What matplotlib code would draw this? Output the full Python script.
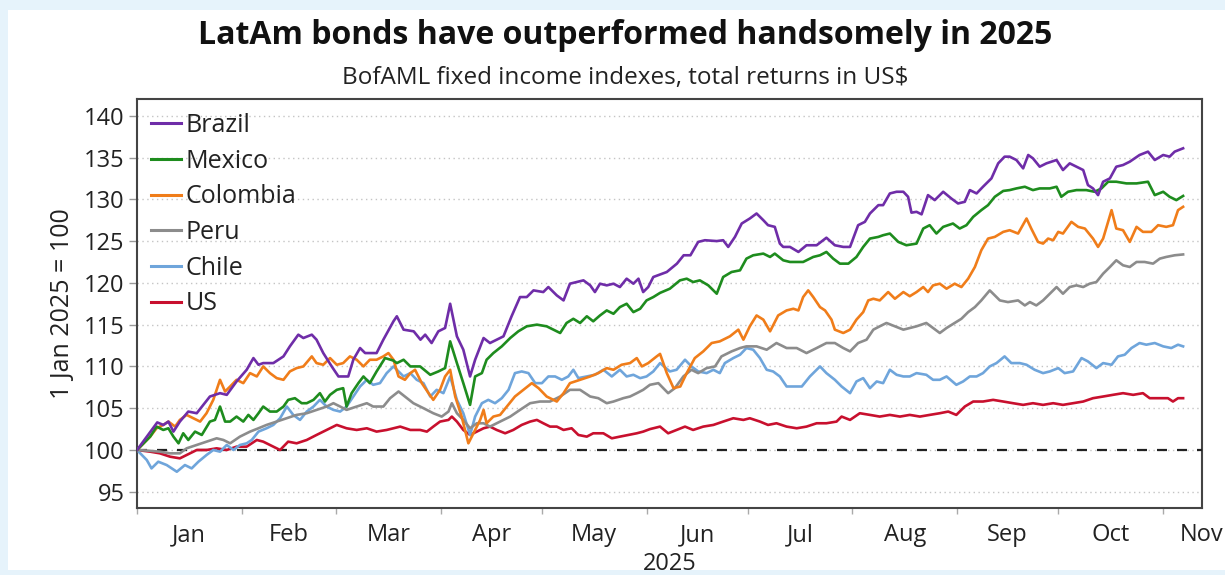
import numpy as np
import matplotlib
matplotlib.use("Agg")
import matplotlib.pyplot as plt
from matplotlib.patches import Rectangle

plt.rcParams['font.family'] = ['Open Sans', 'DejaVu Sans']

# ---- data (days since 1 Jan 2025, index level 1 Jan 2025 = 100) ----
brazil_days = [0, 6, 7.8, 9.3, 10.8, 12.7, 15.2, 17.7, 21.6, 24.6, 26.6, 29.5, 32.5, 34.5, 36, 37.4, 40.4, 43.4, 45.3,
               47.8, 49.3, 51.8, 53.2, 55.2, 57.7, 59.7, 62.6, 64.1, 66.1, 67.6, 71, 73, 76, 77, 79, 82, 84, 85.4, 87.3,
               89.3, 91.3, 92.8, 94.8, 96.7, 98.7, 100.2, 102.7, 104.6, 106.6, 108.6, 111, 113.5, 115.5, 117.5, 120.4,
               121.9, 124.4, 126.4, 128.3, 130.3, 132.3, 134.3, 135.7, 137.2, 139.2, 141.2, 143.1, 145.1, 147.1, 148.6,
               150, 151.5, 153, 155, 157, 160, 162, 164, 166.3, 168.3, 171.8, 173.7, 175.2, 177.2, 179.2, 181.6, 183.6,
               185.6, 187, 189, 190.5, 191.5, 193.5, 196, 198.4, 201.4, 204.3, 206.8, 209.3, 211.3, 213.7, 215.7, 217.2,
               219.7, 221.1, 223.1, 225.1, 227.1, 228.5, 229.5, 231, 232.5, 234.4, 236.4, 238.9, 241.3, 243.3, 245.3,
               246.8, 248.8, 250.7, 253.2, 255.2, 257.1, 258.6, 260.6, 262.6, 264.1, 265.5, 267.5, 269.5, 272.5, 274.4,
               276.4, 278.4, 280.4, 281.8, 283.3, 284.8, 286.3, 288.3, 290.2, 292.2, 294.2, 297.1, 299.6, 301.6, 304.1,
               306, 307.5, 310]
brazil_vals = [100, 103.3, 103, 103.4, 102.2, 103.4, 104.6, 104.4, 106.4, 106.8, 106.6, 108.2, 109.6, 111, 110.2, 110.4,
               110.4, 111.2, 112.4, 113.8, 113.4, 113.8, 113.2, 111.6, 110, 108.8, 108.8, 110.8, 112.2, 111.6, 111.6,
               113.2, 115.4, 116, 114.4, 114.2, 113.2, 113.8, 112.8, 114.2, 114.6, 117.5, 113.6, 112, 108.8, 110.8,
               113.4, 112.8, 113.2, 113.6, 116, 118.3, 118.3, 119.1, 118.9, 119.5, 118.5, 117.9, 119.9, 120.1, 120.3,
               119.7, 118.9, 119.9, 119.7, 119.9, 119.5, 120.5, 119.9, 120.5, 118.9, 119.5, 120.7, 121, 121.3, 122.3,
               123.3, 123.3, 124.9, 125.1, 125, 125.1, 124.3, 125.5, 127.1, 127.7, 128.3, 127.5, 126.9, 126.7, 124.7,
               124.3, 124.3, 123.7, 124.5, 124.5, 125.4, 124.5, 124.3, 124.3, 126.9, 127.3, 128.3, 129.3, 129.3, 130.7,
               130.9, 130.9, 130.3, 128.4, 128.5, 128.2, 130.5, 129.9, 130.9, 130.1, 129.5, 129.7, 131.1, 130.7, 131.5,
               132.5, 134.3, 135.1, 135.1, 134.7, 133.7, 135.3, 134.9, 133.9, 134.3, 134.7, 133.5, 134.3, 133.9, 133.5,
               131.7, 131.3, 130.5, 132.1, 132.5, 133.9, 134.1, 134.5, 135.3, 135.7, 134.7, 135.3, 135.1, 135.7, 136.1]

mexico_days = [0, 3.9, 5.8, 7.8, 9.3, 10.8, 12.3, 13.7, 15.2, 17.2, 19.2, 21.6, 23.1, 24.6, 26.1, 27.6, 29.5, 31.5, 33,
               34.5, 36, 37.4, 39.4, 41.4, 43.4, 44.8, 46.8, 48.8, 50.3, 52.3, 54.2, 55.7, 57.2, 59.2, 61.1, 62.1, 63.6,
               65.6, 67.1, 69, 71, 73.5, 76, 77, 79, 81, 83.9, 86.9, 89.3, 91.3, 92.8, 94.8, 96.7, 98.7, 100.2, 102.2,
               103.6, 105.6, 108.1, 110.6, 113, 115.5, 118.5, 121.4, 123.4, 125.4, 127.3, 129.3, 131.3, 133.3, 135.2,
               137.2, 139.2, 141.2, 143.1, 145.1, 147.1, 149.1, 151, 153, 155, 157.9, 160.9, 162.9, 164.8, 166.8, 169.3,
               171.8, 173.7, 176.2, 178.7, 180.6, 182.6, 185.6, 187.6, 189, 191.5, 193.5, 197.4, 200.4, 202.4, 204.3,
               206.3, 208.3, 210.8, 213.2, 215.2, 217.2, 219.7, 221.1, 223.1, 225.6, 228, 231, 233, 234.9, 236.9, 238.9,
               241.8, 243.8, 245.8, 247.8, 250.2, 252.2, 254.2, 256.7, 258.6, 260.6, 263.1, 265.5, 267.5, 270.5, 272.5,
               273.9, 275.9, 278.4, 281.3, 283.8, 285.8, 287.8, 290.2, 293.2, 296.2, 299.6, 301.6, 304.1, 306, 308, 310]
mexico_vals = [100, 101.6, 102.8, 102.4, 102.6, 101.6, 100.8, 102, 101.2, 102.2, 101.8, 103.4, 103.6, 105.2, 103.4,
               103.4, 104, 103.4, 104.2, 103.6, 104.4, 105.2, 104.6, 104.6, 105.2, 106, 106.2, 105.6, 105.6, 106, 106.8,
               105.8, 106.6, 107.2, 107.4, 105.2, 106.8, 108, 108.8, 108, 109.4, 111, 110.7, 110.4, 110.8, 110, 110,
               109, 109.4, 109.8, 113, 110.4, 108, 105.4, 108.8, 109.2, 110.8, 111.6, 112.4, 113.4, 114.2, 114.8, 115,
               114.8, 114.4, 114, 115.2, 115.7, 115.2, 116, 115.4, 116.1, 116.7, 116.3, 117.1, 117.5, 116.5, 116.9,
               117.9, 118.3, 118.8, 119.3, 120.3, 120.5, 120.1, 120.3, 119.7, 118.7, 120.7, 121.3, 121.5, 122.9, 123.3,
               123.5, 123.1, 123.5, 122.7, 122.5, 122.5, 123.1, 123.3, 123.7, 122.9, 122.3, 122.3, 123.1, 124.3, 125.3,
               125.5, 125.7, 125.9, 124.9, 124.5, 124.7, 126.5, 126.9, 125.9, 126.7, 127.1, 126.5, 126.9, 127.9, 128.7,
               129.3, 130.3, 131, 131.1, 131.3, 131.5, 131.1, 131.3, 131.3, 131.5, 130.3, 130.9, 131.1, 131.1, 130.9,
               131.3, 132.1, 132.1, 131.9, 131.9, 132.1, 130.5, 130.9, 130.3, 129.9, 130.4]

colombia_days = [0, 3.9, 5.8, 7.8, 9.3, 11.3, 12.7, 14.7, 16.7, 18.7, 20.6, 22.6, 24.6, 26.1, 27.6, 29.5, 31.5, 33.5,
                 35.5, 37.4, 39.4, 41.4, 43.4, 45.3, 47.3, 49.3, 51.8, 53.2, 55.2, 57.2, 59.2, 61.1, 63.1, 65.1, 67.1,
                 69, 71, 73, 74.5, 76, 77.5, 79.4, 81, 82.4, 84.4, 86.4, 87.8, 89.8, 91.3, 92.8, 94.3, 96.2, 98.2, 99.7,
                 101.7, 102.7, 103.6, 105.6, 107.6, 109.6, 112, 114.5, 117, 119, 121.4, 124.4, 126.4, 128.3, 131.3,
                 134.3, 136.7, 139.2, 141.2, 143.6, 146.1, 148.1, 149.6, 151.5, 154, 155, 157, 159, 161, 162.9, 165.3,
                 167.8, 170.3, 172.7, 175.7, 178.2, 179.7, 181.6, 183.6, 185.6, 187.6, 190, 192.5, 194.5, 196, 197.4,
                 198.9, 200.4, 202.4, 203.9, 205.8, 206.8, 209.3, 211.3, 213.2, 215.2, 216.7, 218.2, 220.1, 222.6,
                 224.6, 227.1, 229, 231, 233, 234.4, 235.9, 237.9, 239.9, 242.3, 244.3, 246.3, 248.3, 250.2, 252.2,
                 254.2, 256.7, 258.6, 261.1, 263.6, 265, 267, 268.5, 270, 271.5, 273, 274.4, 276.9, 278.9, 280.9, 283.3,
                 284.8, 286.3, 288.8, 290.2, 292.2, 294.2, 296.2, 298.1, 300.6, 302.6, 305, 307, 308.5, 310]
colombia_vals = [100, 101.6, 102.6, 103, 103.4, 102.8, 103.6, 104.2, 103.8, 103.4, 104.4, 106, 108.4, 107, 107.6, 108.4,
                 108, 109.2, 108.8, 110, 109.2, 108.6, 108.4, 109.4, 109.8, 110, 111.2, 110.4, 110.2, 111, 110.2, 110.4,
                 111.2, 110.8, 110, 110.8, 110.8, 111.2, 111.6, 110.8, 108.8, 108.4, 109.2, 109.6, 108, 106.8, 106, 107.2,
                 108.8, 109.6, 106.4, 104, 100.8, 102, 103.6, 104.8, 103.2, 104, 104.2, 105.2, 106.4, 107.2, 108, 107.4,
                 106.4, 105.8, 106.8, 108, 108.4, 108.8, 109.2, 109.8, 109.6, 110.2, 110.4, 111, 110, 110.4, 111.2,
                 111.5, 109.2, 107.4, 107.6, 109.2, 111, 111.8, 112.8, 113, 113.6, 114.4, 113.2, 114.8, 116.1, 115.6,
                 114.2, 116.1, 116.7, 116.9, 116.7, 118.3, 119.1, 118.3, 117.1, 116.7, 115.6, 114.4, 114, 114.4, 115.6,
                 116.5, 117.9, 118.1, 117.9, 118.9, 118.1, 118.9, 118.4, 118.9, 119.5, 118.9, 119.7, 119.9, 119.3, 119.9,
                 119.5, 120.5, 121.9, 123.9, 125.3, 125.5, 126.1, 126.3, 125.9, 127.7, 126.5, 124.9, 124.7, 125.3,
                 125.1, 126.1, 125.9, 127.3, 126.7, 126.5, 125.3, 124.3, 125.3, 128.7, 126.5, 126.3, 124.9, 126.7,
                 126.1, 126.1, 126.9, 126.7, 126.9, 128.7, 129.1]

peru_days = [0, 3.9, 6.8, 9.8, 12.7, 14.7, 17.7, 20.6, 23.6, 25.6, 27.6, 30.5, 33.5, 36, 38.4, 41.4, 44.4, 47.3, 50.3,
             53.2, 56.2, 58.2, 60.2, 62.1, 65.1, 68.1, 70, 73, 75, 77.5, 79.4, 81.9, 84.9, 87.8, 90.3, 92.3, 93.3, 94.8,
             96.7, 98.7, 100.7, 102.7, 104.6, 107.6, 110.6, 113.5, 116.5, 119.4, 122.4, 125.4, 128.3, 131.3, 134.3,
             136.7, 139.2, 141.2, 144.1, 146.1, 148.1, 150, 152, 154.5, 157.4, 159.4, 161.9, 164.3, 166.3, 168.8,
             171.3, 173.2, 176.2, 178.7, 180.6, 183.6, 186.6, 189.5, 192.5, 195.5, 198.4, 201.4, 204.3, 206.8, 209.3,
             211.3, 213.7, 216.2, 218.2, 220.1, 222.1, 224.6, 227.1, 229, 231, 233.9, 235.9, 237.9, 239.9, 242.3,
             244.3, 246.3, 248.3, 250.2, 252.7, 254.2, 255.7, 258.1, 261.1, 263.1, 264.6, 266.5, 268.5, 270.5, 272.5,
             274.4, 276.4, 278.4, 280.4, 282.3, 284.3, 286.3, 288.3, 290.2, 292.2, 294.2, 296.2, 298.6, 301.1, 303.1,
             305, 307.5, 310]
peru_vals = [100, 99.9, 99.8, 99.6, 99.6, 100.2, 100.6, 101, 101.4, 101.2, 100.8, 101.6, 102.2, 102.6, 103, 103.4,
             103.8, 104.2, 104.4, 104.8, 105.2, 105.6, 105.2, 104.8, 105.2, 105.6, 105.2, 105.2, 106.2, 107, 106.4, 105.6,
             105, 104.4, 104, 104.6, 105.6, 104.4, 103.6, 102.6, 103.2, 103.2, 102.8, 103.4, 104, 104.8, 105.6, 105.8,
             105.8, 106.4, 107.2, 107.2, 106.4, 106.2, 105.6, 105.8, 106.2, 106.4, 106.8, 107.2, 107.8, 108, 106.8,
             107.4, 108.8, 109.6, 109.2, 109.8, 110, 111.2, 111.8, 112.2, 112.4, 112.4, 112, 112.8, 112.2, 112.2, 111.6,
             112.2, 112.8, 112.8, 112.2, 111.8, 112.8, 113.2, 114.4, 114.8, 115.2, 114.8, 114.4, 114.6, 114.8, 115.2,
             114.6, 114, 114.6, 115.2, 115.7, 116.5, 117.1, 117.9, 119.1, 118.5, 117.9, 117.7, 117.9, 117.3, 117.7,
             117.3, 117.9, 118.7, 119.5, 118.7, 119.5, 119.7, 119.5, 119.9, 120.1, 121.1, 121.9, 122.7, 122.1, 121.9,
             122.5, 122.5, 122.3, 122.9, 123.1, 123.3, 123.4]

chile_days = [0, 2.9, 4.3, 6.3, 8.8, 11.8, 14.2, 16.2, 18.2, 20.6, 22.6, 24.6, 26.6, 28.6, 30.5, 32.5, 34, 36, 38.4,
              40.4, 42.4, 44.4, 46.3, 48.3, 50.3, 52.3, 54.2, 56.2, 58.2, 60.2, 62.1, 64.1, 66.1, 68.1, 70, 72, 74, 76,
              77, 79, 81, 82.9, 84.9, 86.9, 88.8, 90.8, 92.8, 94.8, 96.7, 98.7, 100.2, 102.2, 104.1, 106.1, 108.1,
              110.1, 112, 114, 116, 118, 120, 121.9, 123.9, 125.9, 127.8, 129.3, 130.8, 133.3, 135.7, 138.2, 140.7,
              143.1, 145.1, 147.1, 149.1, 151, 153, 155, 157.9, 159.9, 162.4, 164.3, 166.3, 168.8, 170.8, 172.7,
              174.2, 176.7, 178.7, 180.6, 182.6, 184.6, 186.6, 188.5, 190.5, 192.5, 194.5, 197, 199.4, 202.4, 204.3,
              206.8, 208.8, 211.3, 213.2, 215.2, 217.2, 219.2, 221.1, 223.1, 225.1, 227.1, 229, 231, 233.9, 235.9,
              237.9, 239.9, 242.8, 244.8, 246.8, 248.8, 250.7, 252.7, 254.7, 257.1, 259.1, 261.6, 263.6, 266, 268.5,
              270.5, 273, 274.9, 277.4, 279.9, 281.8, 284.3, 286.3, 288.8, 290.7, 292.7, 294.7, 297.1, 299.1, 301.6,
              304.1, 306.5, 308.5, 310]
chile_vals = [100, 98.8, 97.8, 98.6, 98.2, 97.4, 98.2, 97.8, 98.6, 99.4, 100, 99.8, 100.6, 100, 100.6, 100.8, 101.2,
              102.2, 102.6, 103, 103.8, 105.2, 104.2, 103.6, 104.6, 105.2, 106, 105.2, 104.8, 104.6, 105.2, 106.4, 107.6,
              108.4, 107.8, 108, 109.2, 110, 109.6, 108.8, 109.2, 108.4, 108, 106.4, 107.2, 106.8, 108.8, 106, 104.4,
              101.8, 104, 105.6, 106, 105.6, 106.2, 107.2, 109.2, 109.4, 109.2, 108, 108, 108.8, 108.8, 108.4, 108.8,
              109.6, 108.6, 108.8, 109, 109.6, 108.8, 109.6, 108.8, 109, 108.6, 108.8, 109.4, 110.4, 109.4, 109.6,
              110.8, 110, 109.4, 109.2, 109.6, 109.2, 110.4, 111, 111.4, 112.2, 112, 111, 109.6, 109.4, 108.8, 107.6,
              107.6, 107.6, 108.8, 110, 109.2, 108.4, 107.6, 106.8, 108.2, 108.6, 107.4, 108.2, 108, 109.6, 109, 108.8,
              108.8, 109.2, 109, 108.4, 108.4, 108.8, 107.8, 108.2, 108.8, 108.8, 109.2, 110, 110.4, 111.2, 110.4,
              110.4, 110.2, 109.6, 109.2, 109.4, 109.8, 109.2, 109.4, 111, 110.6, 109.8, 110.4, 110.2, 111.2, 111.4,
              112.2, 112.8, 112.6, 112.8, 112.4, 112.2, 112.6, 112.4]

us_days = [0, 3.9, 6.8, 9.8, 12.7, 14.7, 17.7, 20.6, 23.6, 26.6, 29.5, 32.5, 35.5, 37.4, 39.4, 42.4, 44.8, 47.3, 50.3,
           53.2, 56.2, 59.2, 62.1, 65.1, 68.1, 71, 74, 78, 81, 83.9, 85.9, 87.8, 89.8, 92.3, 93.3, 94.8, 96.7, 98.7,
           100.7, 102.7, 104.6, 106.6, 109.1, 111.5, 114, 116.5, 118.5, 120.4, 122.4, 124.4, 126.4, 128.8, 130.8,
           133.3, 135.2, 138.2, 140.7, 143.1, 145.6, 148.1, 150, 152, 155, 157.4, 159.9, 162.4, 164.8, 167.8, 170.8,
           173.7, 176.7, 179.7, 181.6, 184.6, 187, 189.5, 192.5, 195.5, 198.4, 201.4, 204.3, 207.3, 208.8, 211.3,
           214.2, 217.2, 220.1, 223.1, 226.1, 229, 232, 234.9, 237.9, 240.4, 242.8, 245.3, 247.8, 250.7, 253.7,
           256.7, 259.6, 262.6, 265.5, 268.5, 271.5, 274.4, 277.4, 280.4, 283.3, 286.3, 289.2, 292.2, 295.2, 298.1,
           300.1, 303.1, 305.5, 307, 308.5, 310]
us_vals = [100, 99.8, 99.6, 99.2, 99, 99.4, 100, 100, 100.2, 100, 100.4, 100.4, 101.2, 101, 100.6, 100, 101, 100.8,
           101.2, 101.8, 102.4, 103, 102.6, 102.4, 102.6, 102.2, 102.4, 102.8, 102.4, 102.4, 102.2, 102.8, 103.4,
           103.6, 104, 103.4, 102.4, 101.8, 102.2, 102.6, 102.8, 102.4, 102, 102.4, 103, 103.4, 103.6, 103.2, 102.8,
           102.8, 102.4, 102.6, 101.8, 101.6, 102, 102, 101.4, 101.6, 101.8, 102, 102.2, 102.5, 102.8, 102, 102.4,
           102.8, 102.4, 102.8, 103, 103.4, 103.8, 103.6, 103.8, 103.4, 103, 103.2, 102.8, 102.6, 102.8, 103.2, 103.2,
           103.4, 104, 103.6, 104.4, 104.2, 104, 104.2, 104, 104.2, 104, 104.2, 104.4, 104.6, 104.2, 105.2, 105.8,
           105.8, 106, 105.8, 105.6, 105.4, 105.6, 105.4, 105.6, 105.4, 105.6, 105.8, 106.2, 106.4, 106.6, 106.8,
           106.6, 106.8, 106.2, 106.2, 106.2, 105.8, 106.2, 106.2]

series_names = ['Brazil', 'Mexico', 'Colombia', 'Peru', 'Chile', 'US']
series_colors = ['#6f2da8', '#1e8c1e', '#f07d1a', '#8c8c8c', '#6fa5db', '#c8102e']
month_labels = ['Jan', 'Feb', 'Mar', 'Apr', 'May', 'Jun', 'Jul', 'Aug', 'Sep', 'Oct', 'Nov']
yticks = [95, 100, 105, 110, 115, 120, 125, 130, 135, 140]

title = 'LatAm bonds have outperformed handsomely in 2025'
subtitle = 'BofAML fixed income indexes, total returns in US$'
ylabel = '1 Jan 2025 = 100'
xlabel = '2025'

# ---- figure ----
W, H = 1225, 575
fig = plt.figure(figsize=(W / 100, H / 100), dpi=100)
fig.patch.set_facecolor('#e6f3fb')
fig.patches.append(Rectangle((8 / W, 5 / H), 1 - 8 / W, 560 / H, transform=fig.transFigure,
                             facecolor='white', edgecolor='none', zorder=-10))

ax = fig.add_axes([137 / W, 1 - 508 / H, (1202 - 137) / W, (508 - 99) / H])
ax.set_zorder(1)
ax.set_facecolor('white')

data = [(brazil_days, brazil_vals), (mexico_days, mexico_vals), (colombia_days, colombia_vals),
        (peru_days, peru_vals), (chile_days, chile_vals), (us_days, us_vals)]

base = np.datetime64('2025-01-01')
month_starts = [(np.datetime64('2025-%02d-01' % m) - base).astype(int) for m in range(1, 12)]
month_ends = month_starts[1:] + [(np.datetime64('2025-12-01') - base).astype(int)]
label_pos = [(a + b) / 2 for a, b in zip(month_starts, month_ends)]
label_pos[-1] = 315.5

for i, ((d, v), name, col) in enumerate(zip(data, series_names, series_colors)):
    ax.plot(d, v, color=col, lw=1.9, label=name, zorder=10 - i, solid_joinstyle='round')

ax.axhline(100, color='#222222', lw=1.6, ls=(0, (4.5, 4.5)), zorder=3)

ax.set_xlim(0, 315.6)
ax.set_ylim(93.06, 142.0)

ax.set_yticks(yticks)
ax.set_yticklabels([str(t) for t in yticks])
ax.yaxis.grid(True, linestyle=(0, (1, 2.5)), color='#c4c4c4', lw=1.0)
ax.set_axisbelow(True)

ax.set_xticks(month_starts)
ax.set_xticklabels([])
ax.set_xticks(label_pos, minor=True)
ax.set_xticklabels(month_labels, minor=True)
ax.tick_params(axis='x', which='major', length=4, color='#aaaaaa', width=1)
ax.tick_params(axis='x', which='minor', length=0, pad=11, labelsize=17, labelcolor='#222222')
ax.tick_params(axis='y', which='major', length=6, color='#999999', width=1, labelsize=17,
               labelcolor='#222222', pad=3)
for lab in ax.get_xticklabels(minor=True):
    lab.set_clip_on(False)

for s in ax.spines.values():
    s.set_color('#444444')
    s.set_linewidth(1.5)

ax.set_ylabel(ylabel, fontsize=18, color='#222222', labelpad=6)
fig.text(670 / W, 1 - 564 / H, xlabel, ha='center', va='center', fontsize=17, color='#222222')

fig.text(625 / W, 1 - 36 / H, title, ha='center', va='center', fontsize=23, fontweight='bold', color='#111111')
fig.text(625 / W, 1 - 78 / H, subtitle, ha='center', va='center', fontsize=17.5, color='#222222')

leg = ax.legend(loc='upper left', bbox_to_anchor=(0.0, 1.0), frameon=False, fontsize=18,
                handlelength=1.2, handletextpad=0.18, labelspacing=0.43, borderaxespad=0.25, borderpad=0.3)
for t in leg.get_texts():
    t.set_color('#222222')
for h in leg.legend_handles:
    h.set_linewidth(2.2)

fig.savefig('out.png', dpi=100, facecolor=fig.get_facecolor())
